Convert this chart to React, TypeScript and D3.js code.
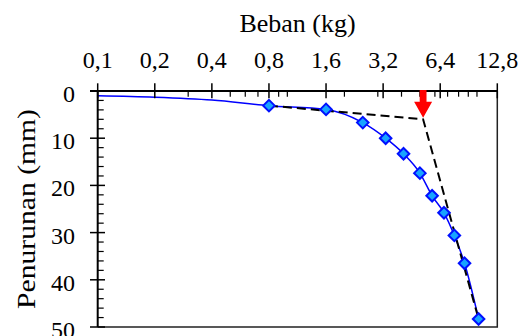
import React from 'react'
import * as d3 from 'd3'

// load (kg) and settlement (mm)
const loads = [0.8, 1.6, 2.5, 3.3, 4.1, 5.0, 5.8, 6.7, 7.6, 8.6, 10.2]
const settlements = [3.1, 3.9, 6.7, 10.0, 13.3, 17.4, 22.2, 25.8, 30.6, 36.5, 48.3]

// start of the smooth curve, before the first marker
const leadLoads = [0.1, 0.2, 0.4]
const leadSettlements = [1.0, 1.3, 1.9]

// dashed tangent construction (start, knee, end)
const tangentLoads = [0.8, 5.2, 10.2]
const tangentSettlements = [3.1, 6.0, 48.3]

const xTicks = [0.1, 0.2, 0.4, 0.8, 1.6, 3.2, 6.4, 12.8]
const xMinorTicks = [0.3, 0.5, 0.6, 0.7, 0.9, 1, 2, 3, 4, 5, 6, 7, 8, 9, 10]
const yTicks = [0, 10, 20, 30, 40, 50]
const yMinorTicks = d3.range(0, 51, 2).filter((d) => d % 10 !== 0)

const width = 527
const height = 336
const margin = { top: 91, right: 29.7, bottom: 9, left: 97.7 }
const font = '"Liberation Serif", "Times New Roman", serif'

function App() {
  const svgRef = React.useRef(null)

  React.useEffect(() => {
    const svg = d3.select(svgRef.current)
    svg.selectAll('*').remove()

    const x = d3
      .scaleLog()
      .base(2)
      .domain([0.1, 12.8])
      .range([margin.left, width - margin.right])

    const y = d3
      .scaleLinear()
      .domain([0, 50])
      .range([margin.top, height - margin.bottom])

    const x0 = margin.left
    const x1 = width - margin.right
    const y0 = margin.top
    const y1 = height - margin.bottom

    // frame right / bottom
    svg
      .append('path')
      .attr('d', `M${x0},${y1}H${x1}V${y0}`)
      .attr('fill', 'none')
      .attr('stroke', '#222')
      .attr('stroke-width', 1.5)

    // blue curve
    const curvePts = leadLoads
      .map((d, i) => [d, leadSettlements[i]])
      .concat(loads.map((d, i) => [d, settlements[i]]))
    const line = d3
      .line()
      .x((d) => x(d[0]))
      .y((d) => y(d[1]))
      .curve(d3.curveMonotoneX)
    svg
      .append('path')
      .attr('d', line(curvePts))
      .attr('fill', 'none')
      .attr('stroke', '#0000ff')
      .attr('stroke-width', 1.5)

    // dashed tangent lines
    const tangentPts = tangentLoads.map((d, i) => [d, tangentSettlements[i]])
    svg
      .append('path')
      .attr('d', d3.line().x((d) => x(d[0])).y((d) => y(d[1]))(tangentPts))
      .attr('fill', 'none')
      .attr('stroke', '#000')
      .attr('stroke-width', 2)
      .attr('stroke-dasharray', '9,5')

    // diamond markers
    const diamond = d3.symbol().type(d3.symbolDiamond2).size(85)
    svg
      .selectAll('.pt')
      .data(loads)
      .enter()
      .append('path')
      .attr('d', diamond)
      .attr('transform', (d, i) => `translate(${x(d)},${y(settlements[i])})`)
      .attr('fill', '#18a4ff')
      .attr('stroke', '#0010ff')
      .attr('stroke-width', 2)

    // top axis
    const ax = svg.append('g')
    ax.append('line')
      .attr('x1', x0 - 7.7)
      .attr('x2', x1)
      .attr('y1', y0)
      .attr('y2', y0)
      .attr('stroke', '#000')
      .attr('stroke-width', 2)
    ax.selectAll('.xmaj')
      .data(xTicks)
      .enter()
      .append('line')
      .attr('x1', (d) => x(d))
      .attr('x2', (d) => x(d))
      .attr('y1', y0 - 7.7)
      .attr('y2', y0 + 7.3)
      .attr('stroke', '#000')
      .attr('stroke-width', 1.5)
    ax.selectAll('.xmin')
      .data(xMinorTicks)
      .enter()
      .append('line')
      .attr('x1', (d) => x(d))
      .attr('x2', (d) => x(d))
      .attr('y1', y0)
      .attr('y2', y0 + 5.7)
      .attr('stroke', '#000')
      .attr('stroke-width', 1.2)
    ax.selectAll('.xlab')
      .data(xTicks)
      .enter()
      .append('text')
      .attr('x', (d) => x(d))
      .attr('y', 68.3)
      .attr('text-anchor', 'middle')
      .attr('font-family', font)
      .attr('font-size', 24)
      .attr('fill', '#000')
      .text((d) => String(d).replace('.', ','))

    // left axis
    const ay = svg.append('g')
    ay.append('line')
      .attr('x1', x0)
      .attr('x2', x0)
      .attr('y1', y0)
      .attr('y2', y1)
      .attr('stroke', '#000')
      .attr('stroke-width', 2)
    ay.selectAll('.ymaj')
      .data(yTicks)
      .enter()
      .append('line')
      .attr('x1', x0 - 7.7)
      .attr('x2', x0 + 7.3)
      .attr('y1', (d) => y(d))
      .attr('y2', (d) => y(d))
      .attr('stroke', '#000')
      .attr('stroke-width', 1.5)
    ay.selectAll('.ymin')
      .data(yMinorTicks)
      .enter()
      .append('line')
      .attr('x1', x0)
      .attr('x2', x0 + 6)
      .attr('y1', (d) => y(d))
      .attr('y2', (d) => y(d))
      .attr('stroke', '#000')
      .attr('stroke-width', 1.2)
    ay.selectAll('.ylab')
      .data(yTicks)
      .enter()
      .append('text')
      .attr('x', x0 - 22.7)
      .attr('y', (d) => y(d) + 11)
      .attr('text-anchor', 'end')
      .attr('font-family', font)
      .attr('font-size', 24)
      .attr('fill', '#000')
      .text((d) => d)

    // red arrow at the knee
    const ka = x(tangentLoads[1])
    const tip = y(tangentSettlements[1]) - 1.5
    svg
      .append('path')
      .attr(
        'd',
        `M${ka - 3.4},${y0 - 1}V${tip - 16}H${ka - 9}L${ka},${tip}L${ka + 9},${tip - 16}H${ka + 3.4}V${y0 - 1}Z`
      )
      .attr('fill', '#ff0000')

    // axis titles
    svg
      .append('text')
      .attr('x', (x0 + x1) / 2)
      .attr('y', 32.3)
      .attr('text-anchor', 'middle')
      .attr('font-family', font)
      .attr('font-size', 26)
      .attr('fill', '#000')
      .text('Beban (kg)')

    svg
      .append('text')
      .attr('transform', `translate(35, 209) rotate(-90)`)
      .attr('text-anchor', 'middle')
      .attr('font-family', font)
      .attr('font-size', 26)
      .attr('textLength', 200)
      .attr('lengthAdjust', 'spacingAndGlyphs')
      .attr('fill', '#000')
      .text('Penurunan (mm)')
  }, [])

  return (
    <svg
      ref={svgRef}
      width={width}
      height={height}
      style={{ position: 'absolute', left: 0, top: 0, background: '#fff' }}
    ></svg>
  )
}

export default App
